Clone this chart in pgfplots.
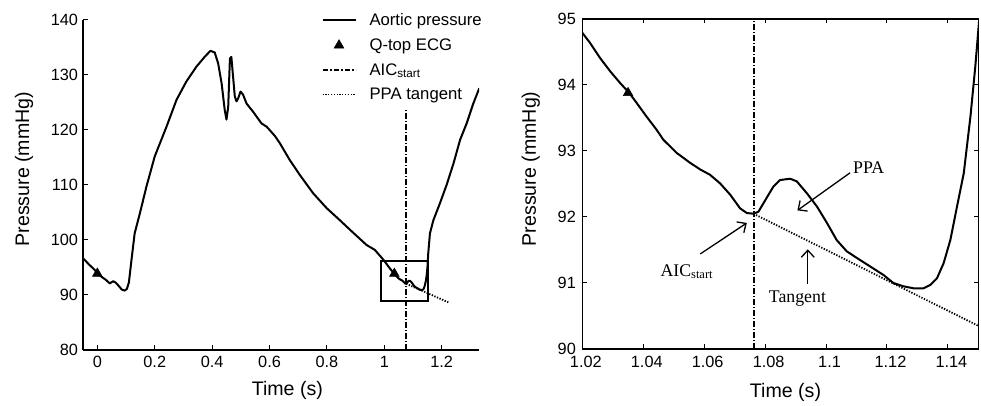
\documentclass[border=0pt]{standalone}
\usepackage{fontspec}
\setmainfont{Liberation Sans}
\newfontfamily\serifb{Liberation Serif}
\usepackage{pgfplots}
\usepackage{pgfplotstable}
\pgfplotsset{compat=1.18}
\usetikzlibrary{arrows.meta}
\newcommand\lgf{\fontsize{16.7}{19}\selectfont}

\pgfplotstableread{
x y
-0.05 96.7
-0.03 95.6
-0.01 94.6
0.0 93.9
0.015 93.3
0.031 92.7
0.043 92.1
0.055 92.5
0.063 92.3
0.072 91.8
0.085 91.0
0.095 90.8
0.103 91.1
0.110 92.3
0.119 96.4
0.130 101.2
0.148 104.8
0.171 109.7
0.200 115.2
0.241 120.6
0.276 125.5
0.310 128.8
0.345 131.5
0.374 133.3
0.394 134.4
0.409 134.1
0.421 132.1
0.433 128.5
0.444 123.6
0.450 121.9
0.456 124.2
0.462 133.0
0.467 133.3
0.473 129.7
0.479 126.1
0.485 125.2
0.491 125.8
0.499 127.0
0.508 126.4
0.520 124.8
0.543 123.3
0.572 121.2
0.590 120.6
0.619 118.9
0.636 117.6
0.671 114.5
0.706 111.8
0.752 108.5
0.799 105.8
0.845 103.6
0.892 101.3
0.938 99.1
0.967 98.2
0.997 96.4
1.010 95.5
1.0200 94.79
1.0225 94.64
1.0258 94.41
1.0291 94.21
1.0324 94.03
1.0354 93.88
1.0378 93.73
1.0411 93.52
1.0444 93.32
1.0466 93.17
1.0510 92.97
1.0554 92.82
1.0587 92.72
1.0619 92.64
1.0652 92.51
1.0685 92.34
1.0718 92.13
1.0740 92.06
1.0762 92.05
1.0778 92.08
1.0805 92.29
1.0827 92.46
1.0849 92.56
1.0882 92.58
1.0904 92.54
1.0937 92.36
1.0970 92.16
1.1003 91.91
1.1035 91.65
1.1068 91.48
1.1101 91.38
1.1145 91.25
1.1189 91.12
1.1221 91.00
1.1254 90.95
1.1287 90.92
1.1320 90.92
1.1342 90.97
1.1364 91.07
1.1386 91.30
1.1408 91.65
1.1430 92.16
1.1452 92.66
1.1474 93.52
1.1490 94.28
1.1503 95.00
1.153 97.5
1.159 101.2
1.171 103.6
1.194 106.7
1.217 110.0
1.241 113.9
1.264 118.2
1.287 121.2
1.310 124.8
1.331 127.6
}\aortic

\pgfplotstableread{
x y
0.0 93.9
1.035 93.88
}\qtop

\tikzset{
  myarrow/.style={line width=1.3pt, -{Straight Barb[length=7pt,width=13pt,line width=1.3pt]}},
  annot/.style={font=\serifb\fontsize{17.8}{20}\selectfont},
}
\pgfplotsset{
  every axis/.append style={
    scale only axis, width=396pt, height=330pt,
    /pgf/number format/assume math mode=true,
    tick label style={font=\fontsize{16.3}{18}\selectfont},
    xticklabel style={yshift=-2.5pt},
    yticklabel style={xshift=-1.5pt},
    label style={font=\fontsize{19.6}{22}\selectfont},
    major tick length=4.5pt,
    axis line style={line width=1.4pt},
    every tick/.style={line width=1pt, black},
  },
  curve/.style={black, line width=2pt, line join=round},
  tri/.style={only marks, mark=triangle*, mark size=5.6pt, mark options={fill=black, draw=black, line width=0.5pt}},
  trilegend/.style={legend image code/.code={\draw[mark repeat=2,mark phase=2,##1] plot coordinates {(0pt,0pt)(16.5pt,0pt)(33pt,0pt)};}},
  linelegend/.style={legend image code/.code={\draw[##1] (0pt,0pt) -- (33pt,0pt);}},
  dd/.style={black, line width=2pt, dash pattern=on 5.5pt off 2pt on 1.5pt off 2pt},
  dt/.style={black, line width=1.8pt, dash pattern=on 1.3pt off 1.5pt},
}

\begin{document}
\begin{tikzpicture}[x=1pt,y=1pt]
\path[use as bounding box] (0,0) rectangle (981,406);

% ---------------- left panel ----------------
\begin{axis}[
  at={(83pt,56pt)}, anchor=south west,
  xmin=-0.05, xmax=1.33, ymin=80, ymax=140,
  axis x line*=bottom, axis y line*=left,
  xtick={0,0.2,0.4,0.6,0.8,1,1.2},
  ytick={80,90,...,140},
  xlabel={Time (s)}, ylabel={Pressure (mmHg)},
  xlabel style={at={(axis description cs:0.516,-0.139)}, anchor=base},
  ylabel style={at={(axis description cs:-0.136,0.548)}, anchor=base},
  legend style={at={(rel axis cs:1.0076,1.02)}, anchor=north east, draw=none, fill=none,
    font=\lgf, inner xsep=0pt, inner ysep=0pt, row sep=11.5pt, column sep=13pt,
    nodes={inner sep=0pt}},
  legend cell align=left,
]
\addplot[curve, linelegend] table[x=x,y=y] {\aortic};
\addlegendentry{\lgf Aortic pressure}
\addplot[tri, trilegend] table[x=x,y=y] {\qtop};
\addlegendentry{\lgf Q-top ECG}
\addplot[dd, linelegend] coordinates {(1.0762,80) (1.0762,124)};
\addlegendentry{\lgf AIC\textsubscript{start}}
\addplot[dt, linelegend] coordinates {(1.0762,92.05) (1.223,88.67)};
\addlegendentry{\lgf PPA tangent}
\draw[line width=2pt] (axis cs:0.99,88.9) rectangle (axis cs:1.153,96.2);
\end{axis}

% ---------------- right panel ----------------
\begin{axis}[
  at={(582.3pt,57pt)}, anchor=south west,
  xmin=1.02, xmax=1.15, ymin=90, ymax=95,
  xtick={1.02,1.04,1.06,1.08,1.1,1.12,1.14},
  ytick={90,91,...,95},
  xticklabels={1.02,1.04,1.06,1.08,1.1,1.12,1.14},
  xticklabel style={xshift=3.5pt, yshift=-1pt},
  yticklabel style={xshift=-1.5pt},
  xlabel={Time (s)}, ylabel={Pressure (mmHg)},
  xlabel style={at={(axis description cs:0.513,-0.146)}, anchor=base},
  ylabel style={at={(axis description cs:-0.1175,0.546)}, anchor=base},
]
\addplot[curve] table[x=x,y=y] {\aortic};
\addplot[tri] table[x=x,y=y] {\qtop};
\addplot[dd] coordinates {(1.0762,90) (1.0762,95)};
\addplot[dt] coordinates {(1.0762,92.05) (1.15,90.35)};
\node[annot] at (axis cs:1.114,92.75) {PPA};
\draw[myarrow] (axis cs:1.1079,92.67) -- (axis cs:1.0906,92.10);
\node[annot] at (axis cs:1.0543,91.17) {AIC\textsubscript{start}};
\draw[myarrow] (axis cs:1.0587,91.44) -- (axis cs:1.074,91.91);
\node[annot] at (axis cs:1.0906,90.76) {Tangent};
\draw[myarrow] (axis cs:1.094,90.98) -- (axis cs:1.094,91.51);
\end{axis}
\end{tikzpicture}
\end{document}
